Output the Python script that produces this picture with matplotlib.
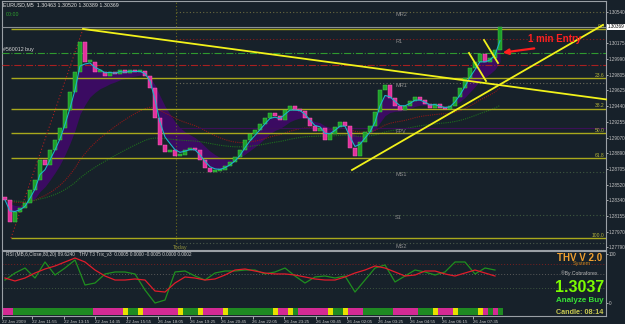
import numpy as np
import pandas as pd
import matplotlib
matplotlib.use("Agg")
import matplotlib.pyplot as plt

# cierres EURUSD M5 (una vela cada 5 px)
closes = [1.28340, 1.28083, 1.28200, 1.28246, 1.28305, 1.28457, 1.28574, 1.28808, 1.28750, 1.28925,
          1.29042, 1.29182, 1.29393, 1.29604, 1.29838, 1.30190, 1.29955, 1.29955, 1.29838, 1.29838,
          1.29791, 1.29838, 1.29814, 1.29861, 1.29826, 1.29861, 1.29838, 1.29849, 1.29791, 1.29650,
          1.29299, 1.28984, 1.28902, 1.28925, 1.28855, 1.28867, 1.28925, 1.28948, 1.28925, 1.28808,
          1.28714, 1.28668, 1.28679, 1.28691, 1.28738, 1.28785, 1.28843, 1.28925, 1.29042, 1.29112,
          1.29159, 1.29229, 1.29299, 1.29358, 1.29323, 1.29276, 1.29393, 1.29440, 1.29393, 1.29381,
          1.29299, 1.29206, 1.29147, 1.29182, 1.29042, 1.29112, 1.29194, 1.29253, 1.29206, 1.28948,
          1.28855, 1.29019, 1.29136, 1.29206, 1.29370, 1.29627, 1.29686, 1.29533, 1.29440, 1.29393,
          1.29440, 1.29498, 1.29545, 1.29510, 1.29463, 1.29416, 1.29463, 1.29416, 1.29405, 1.29440,
          1.29545, 1.29650, 1.29767, 1.29884, 1.29955, 1.30048, 1.29955, 1.30001, 1.30095, 1.30369]
first_open = 1.28375
current_price = 1.30369

# fibonacci
fib_high = 1.30341
fib_low = 1.27895
fib_levels = [0.0, 23.6, 38.2, 50.0, 61.8, 100.0]

# pivotes
pivot_names = ["MR2", "R1", "MR1", "FPV", "MS1", "S1", "MS2"]
pivot_prices = [1.30540, 1.30224, 1.29709, 1.29182, 1.28668, 1.28165, 1.27837]
buy_level = 1.30060
sell_level = 1.29920

price_ticks = [1.30540, 1.30175, 1.29990, 1.29805, 1.29625, 1.29440, 1.29255, 1.29070,
               1.28890, 1.28705, 1.28520, 1.28340, 1.28155, 1.27970, 1.27790]

# lineas de tendencia (indice de vela, precio)
down_x, down_y = [15.6, 120.2], [1.30341, 1.29517]
up_x, up_y = [69.4, 119.6], [1.28691, 1.30388]
seg1_x, seg1_y = [92.8, 96.2], [1.30060, 1.29732]
seg2_x, seg2_y = [95.8, 98.6], [1.30212, 1.29943]
today_idx = 34.2

# indicador de abajo (cada 2 velas)
green_vals = [46.9, 61.2, 71.4, 51.0, 83.7, 57.1, 71.4, 87.8, 36.7, 40.8,
              59.2, 63.3, 63.3, 59.2, 26.5, 0.0, 6.1, 63.3, 65.3, 55.1,
              46.9, 61.2, 65.3, 65.3, 67.3, 67.3, 59.2, 63.3, 71.4, 55.1,
              40.8, 53.1, 55.1, 51.0, 55.1, 22.4, 46.9, 71.4, 77.6, 42.9,
              55.1, 67.3, 63.3, 57.1, 63.3, 83.7, 83.7, 59.2, 71.4, 67.3]
red_vals = [51.0, 44.9, 51.0, 61.2, 69.4, 75.5, 83.7, 91.8, 83.7, 67.3,
            55.1, 46.9, 46.9, 49.0, 46.9, 24.5, 22.4, 40.8, 53.1, 51.0,
            46.9, 49.0, 57.1, 67.3, 69.4, 65.3, 61.2, 59.2, 59.2, 57.1,
            53.1, 49.0, 46.9, 46.9, 53.1, 61.2, 67.3, 75.5, 71.4, 63.3,
            55.1, 57.1, 65.3, 65.3, 59.2, 55.1, 61.2, 67.3, 61.2, 55.1]
bar_runs = [("m", 2), ("g", 16), ("m", 6), ("y", 1), ("g", 2), ("y", 1), ("m", 7), ("y", 1),
            ("g", 3), ("y", 1), ("m", 4), ("y", 1), ("g", 9), ("y", 1), ("m", 2), ("y", 1),
            ("g", 1), ("m", 6), ("y", 1), ("g", 2), ("y", 1), ("m", 3), ("g", 6), ("m", 5),
            ("g", 3), ("y", 1), ("m", 3), ("y", 1), ("g", 4), ("y", 1), ("m", 1), ("g", 1),
            ("m", 1), ("g", 1)]

time_labels = ["22 Jan 2009", "22 Jan 11:55", "22 Jan 13:15", "22 Jan 14:35", "22 Jan 15:55",
               "26 Jan 18:05", "26 Jan 19:25", "26 Jan 20:45", "26 Jan 22:05", "26 Jan 23:25",
               "26 Jan 00:45", "26 Jan 02:05", "26 Jan 03:25", "26 Jan 04:55", "26 Jan 06:15",
               "26 Jan 07:35"]

bg = "#17212a"
W, H = 625, 324
small = "Liberation Sans"

fig = plt.figure(figsize=(6.25, 3.24), dpi=100, facecolor=bg)


def px(x, y):
    return x / W, 1 - y / H


ax = fig.add_axes([2 / W, 74 / H, 604 / W, 249 / H], facecolor=bg)
sub = fig.add_axes([2 / W, 8 / H, 604 / W, 65 / H], facecolor=bg)

n = len(closes)
idx = np.arange(n)
c = pd.Series(closes)
opens = np.r_[first_open, c.values[:-1]]

# medias
ema_fast = c.ewm(span=3, adjust=False).mean()
ema_band = c.ewm(span=10, adjust=False).mean()
ma_red = c.ewm(span=30, adjust=False).mean()
ma_green = c.ewm(span=60, adjust=False).mean()

ax.fill_between(idx, ema_fast, ema_band, color="#3b0b62", lw=0, zorder=2)
ax.plot(idx, ma_red, color="#8a1818", lw=0.8, ls=(0, (1, 1)), zorder=3)
ax.plot(idx, ma_green, color="#1e6e1e", lw=0.8, ls=(0, (1, 1)), zorder=3)

# velas
body_lo = np.minimum(opens, c.values)
body_h = np.maximum(np.abs(c.values - opens), 0.00018)
up = c.values >= opens
ax.bar(idx[up], body_h[up], bottom=body_lo[up], width=0.8, color="#1f9e2a",
       edgecolor="#48d84c", linewidth=0.3, zorder=5)
ax.bar(idx[~up], body_h[~up], bottom=body_lo[~up], width=0.8, color="#e0329c",
       edgecolor="#ff6ac8", linewidth=0.3, zorder=5)
ax.plot(idx, ema_fast, color="#1cb4c8", lw=0.8, zorder=6)

# niveles fibo
xmax = 120.2
for lvl in fib_levels:
    p = fib_high - (fib_high - fib_low) * lvl / 100
    ax.hlines(p, 1.2, xmax, color="#a9a91c", lw=1.0, zorder=4)
    ax.text(119.9, p + 0.00005, "%.1f" % lvl, color="#b4b43a", fontsize=3.6, family=small,
            ha="right", va="bottom", zorder=7)
ax.plot([1.2, 15.6], [fib_low, fib_high], color="#b02020", lw=0.8, ls=(0, (1, 2)), zorder=4)

# pivotes
piv_style = {"MR2": ("#6a6a40", (0, (1, 2))), "R1": ("#8a1c1c", (0, (1, 2))),
             "MR1": ("#6a6a5a", (0, (1, 2))), "FPV": ("#3c1058", "-"),
             "MS1": ("#3f5a3f", (0, (1, 2))), "S1": ("#3f5a3f", (0, (1, 2))),
             "MS2": ("#4a5a4a", (0, (1, 2)))}
for name, p in zip(pivot_names, pivot_prices):
    col, ls = piv_style[name]
    ax.hlines(p, today_idx, xmax, color=col, lw=0.8, ls=ls, zorder=3)
    ax.text(78.0, p - 0.00006, name, color="#8c8c8c", fontsize=4, family=small, va="top", zorder=7)
ax.hlines(buy_level, -0.6, xmax, color="#2f9a2f", lw=0.8, ls="-.", zorder=3)
ax.hlines(sell_level, -0.6, xmax, color="#a82020", lw=0.8, ls="-.", zorder=3)
ax.hlines(current_price, -0.6, xmax, color="#8a8f96", lw=0.8, zorder=3)
ax.axvline(today_idx, color="#6e6e1e", lw=0.8, ls=(0, (1, 2)), zorder=3)
ax.text(today_idx - 0.6, 1.27790, "Today", color="#8c8c3c", fontsize=4, family=small, va="center")

# tendencias
for xs, ys in [(down_x, down_y), (up_x, up_y), (seg1_x, seg1_y), (seg2_x, seg2_y)]:
    ax.plot(xs, ys, color="#f2f21a", lw=1.3, zorder=8, clip_on=False)

ax.annotate("", xy=(99.0, 1.30060), xytext=(106.4, 1.30118),
            arrowprops=dict(arrowstyle="-|>", color="#ff1e1e", lw=1.6,
                            mutation_scale=8), zorder=9)
ax.text(110.0, 1.30224, "1 min Entry", color="#ff2020", fontsize=7, fontweight="bold",
        family=small, ha="center", va="center", zorder=9)

ax.set_xlim(-0.6, xmax)
ax.set_ylim(1.27755, 1.30668)
ax.set_xticks([])
ax.yaxis.tick_right()
ax.set_yticks(price_ticks)
ax.set_yticklabels(["%.5f" % t for t in price_ticks], family=small)
ax.tick_params(axis="y", labelsize=3.3, colors="#c4c4c4", length=1.2, width=0.6, pad=0.6)
for s in ax.spines.values():
    s.set_color("#9aa0a6")
    s.set_linewidth(0.8)

ax.text(1.003, current_price, "%.5f" % current_price, transform=ax.get_yaxis_transform(),
        fontsize=3.3, family=small, color="black", va="center", ha="left",
        bbox=dict(boxstyle="square,pad=0.1", fc="white", ec="none"), clip_on=False)

fig.text(*px(3, 5), "EURUSD,M5  1.30463 1.30520 1.30389 1.30369", color="#e0e0e0",
         fontsize=3.8, family=small, va="center")
fig.text(*px(6, 14), "00:00", color="#2fa02f", fontsize=3.8, family=small, va="center")
fig.text(*px(3, 50), "#560012 buy", color="#d8d8d8", fontsize=3.8, family=small, va="center")

# subventana
sx = np.arange(0, n, 2)
for lvl, col in [(80, "#7a2020"), (60, "#5a5a5a"), (30, "#3f553f")]:
    sub.axhline(lvl, color=col, lw=0.7, ls=(0, (1, 2)))
sub.plot(sx, green_vals, color="#1f8f1f", lw=0.9)
sub.plot(sx, red_vals, color="#e01c2a", lw=0.9)

colors = {"g": "#1f8a22", "m": "#d42a94", "y": "#e8e000"}
start = 0
for state, cnt in bar_runs:
    sub.bar(np.arange(start, start + cnt), 14.3, bottom=-24.5, width=1.0,
            color=colors[state], lw=0)
    start += cnt

sub.text(0.2, 98, "RSI (MB,6,Close,80,20) 89.6240   THV T3 Trix_v3  0.0005 0.0000 -0.0005 0.0000 0.0002",
         color="#d0d0d0", fontsize=3.4, family=small, va="center")

fig.text(*px(580, 258), "THV V 2.0", color="#f0a030", fontsize=7, fontweight="bold",
         family=small, ha="center", va="center")
fig.text(*px(582, 264), "System", color="#c08020", fontsize=4, family=small, ha="center", va="center")
fig.text(*px(579, 273), "\u00aeBy Cobraforex", color="#b8b8b8", fontsize=3.6, family=small,
         ha="center", va="center")
fig.text(*px(580, 287), "1.3037", color="#7cfc00", fontsize=11.5, fontweight="bold",
         family=small, ha="center", va="center")
fig.text(*px(580, 300), "Analyze Buy", color="#36e236", fontsize=5.8, fontweight="bold",
         family=small, ha="center", va="center")
fig.text(*px(580, 312), "Candle: 08:14", color="#c8c850", fontsize=5.2, fontweight="bold",
         family=small, ha="center", va="center")

sub.set_xlim(-0.6, xmax)
sub.set_ylim(-26.5, 106.1)
sub.yaxis.tick_right()
sub.set_yticks([100, 0])
sub.set_yticklabels(["100", "0"], family=small)
sub.tick_params(axis="y", labelsize=3.3, colors="#c4c4c4", length=1.2, width=0.6, pad=0.6)
tick_px = np.array([2.0] + [0.5 + 31.5 * k for k in range(1, len(time_labels))])
sub.set_xticks((tick_px - 5) / 5)
sub.set_xticklabels(time_labels, family=small)
for lab in sub.get_xticklabels():
    lab.set_horizontalalignment("left")
sub.tick_params(axis="x", labelsize=3.2, colors="#c4c4c4", length=2, width=0.6, pad=1)
for s in sub.spines.values():
    s.set_color("#9aa0a6")
    s.set_linewidth(0.8)

fig.savefig("out.png", dpi=100, facecolor=bg)
